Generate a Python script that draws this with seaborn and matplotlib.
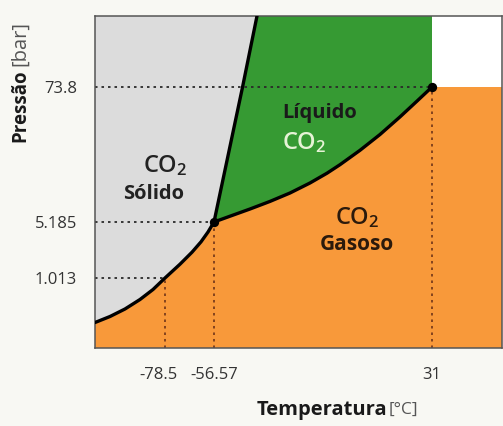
import numpy as np
import pandas as pd
import seaborn as sns
import matplotlib.pyplot as plt
from matplotlib.transforms import ScaledTranslation

# pontos notáveis do diagrama de fases do CO2
temp_ticks = [-78.5, -56.57, 31]
temp_labels = ["-78.5", "-56.57", "31"]
press_ticks = [1.013, 5.185, 73.8]
press_labels = ["1.013", "5.185", "73.8"]

triple_T, triple_P = -56.57, 5.185
critical_T, critical_P = 31, 73.8
sublim_T, sublim_P = -78.5, 1.013

# curva de sublimação (sólido / gás)
sub_T = [-110, -103.25, -96.5, -89.75, -83.9, -78.5, -71.79, -66.42, -62.39, -59.26, -56.57]
sub_P = [0.2324, 0.2835, 0.3634, 0.4975, 0.6924, 1.013, 1.515, 2.149, 2.907, 3.868, 5.185]
# curva de fusão (sólido / líquido)
fus_T = [-56.57, -45.1, -39.3]
fus_P = [5.185, 73.8, 1000]
# curva de vaporização (líquido / gás)
vap_T = [-56.57, -50.14, -42.11, -34.07, -26.04, -18.01, -11.18, -5.96, 2.08, 10.11, 18.15, 24.98, 31]
vap_P = [5.185, 5.811, 6.695, 7.776, 9.173, 11.17, 13.54, 16.01, 21.25, 28.99, 41.0, 55.94, 73.8]

xlim = (-110, 60)
ylim = (0.1, 1000)

# escala esquemática (não linear) usada no desenho
x_anchor = [-110, -78.5, -56.57, 31, 60]
x_frac = [0, 70 / 407, 119 / 407, 337 / 407, 1]
y_anchor = [-1, np.log10(1.013), np.log10(5.185), np.log10(73.8), 3]
y_frac = [0, 70 / 332, 126 / 332, 261 / 332, 1]


def x_fwd(t):
    return np.interp(t, x_anchor, x_frac)


def x_inv(f):
    return np.interp(f, x_frac, x_anchor)


def y_fwd(p):
    return np.interp(np.log10(np.clip(p, 1e-9, None)), y_anchor, y_frac)


def y_inv(f):
    return 10 ** np.interp(f, y_frac, y_anchor)


sns.set_style("white")
plt.rcParams['font.family'] = ['Open Sans', 'DejaVu Sans']
plt.rcParams['mathtext.fontset'] = 'custom'
plt.rcParams['mathtext.rm'] = 'Open Sans'

bg = "#f8f8f3"
gray = "#dcdcdc"
green = "#369a33"
orange = "#f8993a"

fig = plt.figure(figsize=(5.03, 4.26), dpi=100, facecolor=bg)
ax = fig.add_axes([95 / 503, 78 / 426, 407 / 503, 332 / 426])
ax.set_facecolor(orange)

sub = pd.DataFrame({"T": sub_T, "P": sub_P})
fus = pd.DataFrame({"T": fus_T, "P": fus_P})
vap = pd.DataFrame({"T": vap_T, "P": vap_P})

# regiões
solid_x = [xlim[0]] + sub_T + fus_T[1:]
solid_y = [ylim[1]] + sub_P + fus_P[1:]
ax.fill(solid_x, solid_y, color=gray, lw=0, zorder=1)

liq_x = fus_T + [critical_T, critical_T] + vap_T[::-1]
liq_y = fus_P + [ylim[1], critical_P] + vap_P[::-1]
ax.fill(liq_x, liq_y, color=green, lw=0, zorder=1)

ax.fill([critical_T, xlim[1], xlim[1], critical_T],
        [critical_P, critical_P, ylim[1], ylim[1]], color="white", lw=0, zorder=1)

# linhas pontilhadas de referência
dot = (0, (1.4, 2.2))
for t, p in zip(temp_ticks, [sublim_P, triple_P, critical_P]):
    ax.plot([t, t], [ylim[0], p], color="#7a3c1c", lw=1.3, ls=dot, zorder=2)
for t, p in zip([sublim_T, triple_T, critical_T], press_ticks):
    ax.plot([xlim[0], t], [p, p], color="#2a2a2a", lw=1.3, ls=dot, zorder=2)

# curvas de equilíbrio
for d in (sub, fus, vap):
    sns.lineplot(data=d, x="T", y="P", sort=False, estimator=None,
                 color="black", lw=2.4, ax=ax, zorder=3)

pts = pd.DataFrame({"T": [triple_T, critical_T], "P": [triple_P, critical_P]})
sns.scatterplot(data=pts, x="T", y="P", color="black", s=45, lw=0, ax=ax, zorder=4)

ax.set_xscale("function", functions=(x_fwd, x_inv))
ax.set_yscale("function", functions=(y_fwd, y_inv))
ax.set_xlim(*xlim)
ax.set_ylim(*ylim)

ax.set_xticks(temp_ticks)
ax.set_xticklabels(temp_labels)
ax.set_yticks(press_ticks)
ax.set_yticklabels(press_labels)
ax.minorticks_off()
ax.tick_params(axis="both", which="major", direction="out", length=10, width=1.1,
               color="#444444", labelsize=12, labelcolor="#333333")
ax.tick_params(axis="x", pad=4)
ax.tick_params(axis="y", pad=3)
ax.set_xlabel("")
ax.set_ylabel("")
for s in ax.spines.values():
    s.set_visible(True)
    s.set_color("#555555")
    s.set_linewidth(1.1)

# rótulos das fases
co2 = r"$\mathregular{CO_2}$"
ax.text(-78.5, 15.6, co2, fontsize=17, fontweight="semibold", color="#222222",
        ha="center", va="center", zorder=5)
ax.text(-83.7, 9.0, "Sólido", fontsize=14.5, fontweight="bold", color="#222222",
        ha="center", va="center", zorder=5)
ax.text(-29.3, 44.3, "Líquido", fontsize=14.5, fontweight="bold", color="#1a1a1a",
        ha="left", va="center", zorder=5)
ax.text(-29.3, 24.8, co2, fontsize=17, fontweight="semibold", color="#e6f3d6",
        ha="left", va="center", zorder=5)
ax.text(0.87, 5.66, co2, fontsize=17, fontweight="semibold", color="#2b1a0c",
        ha="center", va="center", zorder=5)
ax.text(0.87, 2.69, "Gasoso", fontsize=15, fontweight="bold", color="#2b1a0c",
        ha="center", va="center", zorder=5)

# títulos dos eixos
fig.text(257 / 503, 1 - 410 / 426, "Temperatura", fontsize=14.5, fontweight="bold",
         color="#1a1a1a", ha="left", va="center")
fig.text(389 / 503, 1 - 410 / 426, "[°C]", fontsize=12.5, color="#555555",
         ha="left", va="center")
fig.text(20 / 503, 1 - 142 / 426, "Pressão", fontsize=13.5, fontweight="bold",
         color="#1a1a1a", rotation=90, ha="center", va="bottom")
fig.text(20 / 503, 1 - 66 / 426, "[bar]", fontsize=14.5, color="#555555",
         rotation=90, ha="center", va="bottom")

# leve deslocamento do rótulo -78.5, como no original
lbl = ax.get_xticklabels()[0]
lbl.set_transform(lbl.get_transform() + ScaledTranslation(-0.07, 0, fig.dpi_scale_trans))

fig.savefig("out.png", dpi=100, facecolor=bg)
